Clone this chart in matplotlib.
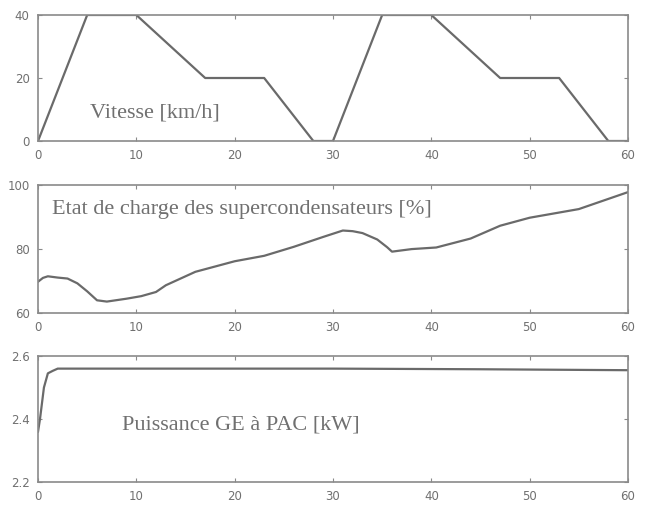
import matplotlib.pyplot as plt

# Vitesse [km/h]
t_speed = [0, 5, 10, 17, 23, 28, 30, 35, 40, 47, 53, 58, 60]
speed = [0, 40, 40, 20, 20, 0, 0, 40, 40, 20, 20, 0, 0]

# Etat de charge des supercondensateurs [%]
t_soc = [0, 0.5, 1, 2, 3, 4, 5, 6, 7, 9, 10.5, 12, 13, 16, 20, 23, 26, 29,
         31, 32, 33, 34.5, 35.5, 36, 38, 40.5, 44, 47, 50, 55, 60]
soc = [69.8, 71.0, 71.5, 71.1, 70.8, 69.3, 66.8, 64.0, 63.6, 64.5, 65.3,
       66.6, 68.7, 72.9, 76.2, 77.9, 80.7, 83.8, 85.8, 85.6, 85.0, 83.0,
       80.6, 79.2, 80.0, 80.5, 83.3, 87.3, 89.8, 92.5, 97.8]

# Puissance GE a PAC [kW]
t_pow = [0, 0.2, 0.6, 1, 1.5, 2, 10, 30, 45, 60]
power = [2.36, 2.40, 2.50, 2.545, 2.553, 2.56, 2.56, 2.56, 2.558, 2.555]

LINE = "#6a6a6a"
FRAME = "#8a8a8a"
TXT = "#707070"

fig = plt.figure(figsize=(6.49, 5.05), dpi=100)

def style(ax, ymin, ymax, yticks):
    ax.set_xlim(0, 60)
    ax.set_ylim(ymin, ymax)
    ax.set_xticks(range(0, 61, 10))
    ax.set_yticks(yticks)
    ax.tick_params(direction="in", top=True, right=True, length=3,
                   labelsize=8.5, colors=FRAME, labelcolor=TXT, pad=6)
    for s in ax.spines.values():
        s.set_color(FRAME)
        s.set_linewidth(1.2)

ax1 = fig.add_axes([0.0586, 0.7208, 0.909, 0.2495])
ax1.plot(t_speed, speed, color=LINE, linewidth=1.6)
style(ax1, 0, 40, [0, 20, 40])
ax1.text(5.3, 9, "Vitesse [km/h]", family="Liberation Serif", fontsize=16,
         color=TXT, va="center")

ax2 = fig.add_axes([0.0586, 0.380, 0.909, 0.2535])
ax2.plot(t_soc, soc, color=LINE, linewidth=1.6)
style(ax2, 60, 100, [60, 80, 100])
ax2.text(1.4, 92.5, "Etat de charge des supercondensateurs [%]",
         family="Liberation Serif", fontsize=16, color=TXT, va="center")

ax3 = fig.add_axes([0.0586, 0.0455, 0.909, 0.2495])
ax3.plot(t_pow, power, color=LINE, linewidth=1.6)
style(ax3, 2.2, 2.6, [2.2, 2.4, 2.6])
ax3.text(8.5, 2.38, "Puissance GE à PAC [kW]", family="Liberation Serif",
         fontsize=16, color=TXT, va="center")

fig.savefig("out.png", dpi=100)
